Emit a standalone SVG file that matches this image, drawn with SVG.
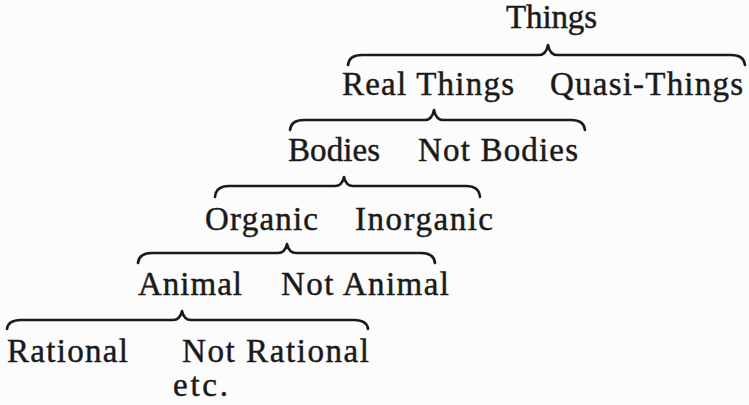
<svg xmlns="http://www.w3.org/2000/svg" width="749" height="405" viewBox="0 0 749 405">
<style>
text{font-family:"Liberation Serif","DejaVu Serif",serif;font-size:33px;fill:#1a1a1a;stroke:#1a1a1a;stroke-width:0.45}
.brace{fill:none;stroke:#1a1a1a;stroke-width:2.6;stroke-linecap:round;stroke-linejoin:round}
</style>
<rect width="749" height="405" fill="#fcfcfc"/>
<g id="connectors">
<path class="brace" d="M348,65 Q349,55 362,55 L539,55 Q546,55 548,45 Q550,55 557,55 L731,55 Q744,55 745,65"/>
<path class="brace" d="M290,130 Q291,120 304,120 L425,120 Q432,120 434,110 Q436,120 443,120 L571,120 Q584,120 585,130"/>
<path class="brace" d="M215,197 Q216,186 229,186 L335,186 Q342,186 344,177 Q346,186 353,186 L466,186 Q479,186 480,197"/>
<path class="brace" d="M138,263 Q139,253 152,253 L278,253 Q285,253 287,244 Q289,253 296,253 L421,253 Q434,253 435,263"/>
<path class="brace" d="M7,329 Q8,320 21,320 L173,320 Q180,320 182,311 Q184,320 191,320 L354,320 Q367,320 368,329"/>
</g>
<g id="things"><text x="506" y="28" textLength="91" lengthAdjust="spacing">Things</text></g>
<g id="real-things"><text x="342" y="95" textLength="172" lengthAdjust="spacing">Real Things</text></g>
<g id="quasi-things"><text x="550" y="95" textLength="193" lengthAdjust="spacing">Quasi-Things</text></g>
<g id="bodies"><text x="288" y="161" textLength="92" lengthAdjust="spacing">Bodies</text></g>
<g id="not-bodies"><text x="418" y="161" textLength="160" lengthAdjust="spacing">Not Bodies</text></g>
<g id="organic"><text x="205" y="230" textLength="113" lengthAdjust="spacing">Organic</text></g>
<g id="inorganic"><text x="355" y="230" textLength="138" lengthAdjust="spacing">Inorganic</text></g>
<g id="animal"><text x="138" y="295" textLength="104" lengthAdjust="spacing">Animal</text></g>
<g id="not-animal"><text x="281" y="295" textLength="168" lengthAdjust="spacing">Not Animal</text></g>
<g id="rational"><text x="7" y="362" textLength="121" lengthAdjust="spacing">Rational</text></g>
<g id="not-rational"><text x="182" y="362" textLength="187" lengthAdjust="spacing">Not Rational</text></g>
<g id="etc"><text x="173" y="396" textLength="55" lengthAdjust="spacing">etc.</text></g>
</svg>
